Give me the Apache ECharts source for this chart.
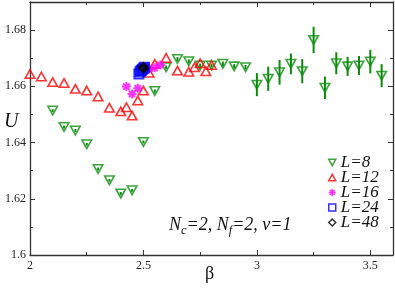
<!DOCTYPE html>
<html><head><meta charset="utf-8">
<script src="https://cdn.jsdelivr.net/npm/echarts@6/dist/echarts.min.js"></script>
<style>html,body{margin:0;padding:0;background:#fff}#c{width:395px;height:292px}</style>
</head><body><div id="c"></div>
<script>
// ---- data ----
var beta8 = [2.1,2.15,2.2,2.25,2.3,2.35,2.4,2.45,2.5,2.55,2.6,2.65,2.7,2.75,2.8,2.85,2.9,2.95,3.0,3.05,3.1,3.15,3.2,3.25,3.3,3.35,3.4,3.45,3.5,3.55];
var U8 = [1.6514,1.6455,1.6443,1.6394,1.6306,1.6266,1.6219,1.6230,1.6402,1.6583,1.6668,1.6697,1.6689,1.6674,1.6674,1.6680,1.6671,1.6668,1.6606,1.6627,1.6650,1.6680,1.6654,1.6765,1.6595,1.6682,1.6671,1.6674,1.6688,1.6638];
var err8 = [0.0005,0.0005,0.0005,0.0005,0.0005,0.0005,0.0005,0.0005,0.0005,0.0006,0.0006,0.0007,0.0007,0.0007,0.0007,0.0008,0.0008,0.0008,0.0041,0.0043,0.0044,0.0037,0.0043,0.0047,0.0040,0.0039,0.0034,0.0034,0.0042,0.0041];
var beta12 = [2.0,2.05,2.1,2.15,2.2,2.25,2.3,2.35,2.4,2.425,2.45,2.475,2.5,2.525,2.55,2.6,2.65,2.7,2.725,2.75,2.775,2.8];
var U12 = [1.6644,1.6635,1.6615,1.6612,1.6591,1.6585,1.6564,1.6524,1.6511,1.6526,1.6496,1.6550,1.6585,1.6648,1.6680,1.6701,1.6656,1.6652,1.6668,1.6682,1.6654,1.6676];
var beta16 = [2.425,2.45,2.475,2.525,2.55,2.575];
var U16 = [1.6599,1.6573,1.6593,1.6662,1.6666,1.6676];
var beta24 = [2.48,2.485,2.49,2.495,2.5,2.505];
var U24 = [1.6644,1.6652,1.6656,1.6660,1.6664,1.6668];
var beta48 = [2.5];
var U48 = [1.6666];
var xTicks = [2, 2.5, 3, 3.5];
var yTicks = [1.6, 1.62, 1.64, 1.66, 1.68];
var labels = ['L=8','L=12','L=16','L=24','L=48'];
var note = {N1:'N', s1:'c', m1:'=2, N', s2:'f', m2:'=2, v=1'};

function pairs(xs, ys){ return xs.map(function(x,i){ return [x, ys[i]]; }); }

var green = '#0a8c0a';
var serif = 'Liberation Serif, Times New Roman, serif';
var downTri = 'path://M0,0 L10,0 L5,9 Z';
var upTri = 'path://M5,0 L10,9 L0,9 Z';
var aster = 'path://M5,0 L5,10 M0,5 L10,5 M1.5,1.5 L8.5,8.5 M8.5,1.5 L1.5,8.5';

var axisLine = {show:true, lineStyle:{color:'#333', width:1.3}};
function xAxisCfg(pos, lbl){
  return {type:'value', position:pos, min:2, max:3.6, interval:0.5,
    axisLine: axisLine, splitLine:{show:false},
    axisTick:{show:true, inside:true, length:5, lineStyle:{color:'#333', width:1}},
    minorTick:{show:true, splitNumber:2, length:3, lineStyle:{color:'#333', width:1}},
    axisLabel:{show:lbl, showMaxLabel:false, margin:5, fontFamily:serif, fontSize:12, color:'#222',
      formatter:function(v){ return xTicks.indexOf(+v.toFixed(2))>=0 ? String(+v.toFixed(2)) : ''; }}};
}
function yAxisCfg(pos, lbl){
  return {type:'value', position:pos, min:1.6, max:1.69, interval:0.02,
    axisLine: axisLine, splitLine:{show:false},
    axisTick:{show:true, inside:true, length:5, lineStyle:{color:'#333', width:1}},
    minorTick:{show:true, splitNumber:2, length:3, lineStyle:{color:'#333', width:1}},
    axisLabel:{show:lbl, showMaxLabel:false, margin:4, fontFamily:serif, fontSize:12, color:'#222',
      formatter:function(v){ return yTicks.indexOf(+v.toFixed(2))>=0 ? String(+v.toFixed(2)) : ''; }}};
}

function errSeries(xs, ys, es, color){
  return {type:'custom', xAxisIndex:0, yAxisIndex:0, silent:true, z:1,
    data: xs.map(function(x,i){ return [x, ys[i]-es[i], ys[i]+es[i]]; }),
    renderItem:function(p, api){
      var a = api.coord([api.value(0), api.value(1)]);
      var b = api.coord([api.value(0), api.value(2)]);
      return {type:'line', shape:{x1:a[0], y1:a[1], x2:b[0], y2:b[1]}, style:{stroke:color, lineWidth:2}};
    }};
}

var chart = echarts.init(document.getElementById('c'), null, {renderer:'canvas'});
chart.setOption({
  animation:false,
  backgroundColor:'#fff',
  grid:{left:30, right:2, top:2, bottom:37},
  xAxis:[xAxisCfg('bottom', true), xAxisCfg('top', false)],
  yAxis:[yAxisCfg('left', true), yAxisCfg('right', false)],
  legend:{orient:'vertical', left:323, top:149, itemWidth:7, itemHeight:7, itemGap:-2, itemTextGap:13,
    data: labels, itemStyle:{borderWidth:1.5},
    textStyle:{fontFamily:serif, fontStyle:'italic', fontSize:17, color:'#111', lineHeight:16}},
  series:[
    errSeries(beta8, U8, err8, green),
    {name:labels[0], type:'scatter', symbol:downTri, symbolSize:[9.5,8.5], data:pairs(beta8,U8), z:3,
      itemStyle:{color:'rgba(255,255,255,0)', borderColor:green, borderWidth:1.6}},
    {name:labels[1], type:'scatter', symbol:upTri, symbolSize:[9.5,8.5], data:pairs(beta12,U12), z:4,
      itemStyle:{color:'rgba(255,255,255,0)', borderColor:'#ff0000', borderWidth:1.6}},
    {name:labels[2], type:'scatter', symbol:aster, symbolSize:9, data:pairs(beta16,U16), z:5,
      itemStyle:{color:'rgba(255,255,255,0)', borderColor:'#ff00ff', borderWidth:2}},
    {name:labels[3], type:'scatter', symbol:'rect', symbolSize:9, data:pairs(beta24,U24), z:6,
      itemStyle:{color:'rgba(255,255,255,0)', borderColor:'#0000ff', borderWidth:2}},
    {name:labels[4], type:'scatter', symbol:'diamond', symbolSize:10, z:7,
      data:pairs(beta48,U48).map(function(d){ return {value:d, itemStyle:{color:'#000'}}; }),
      itemStyle:{color:'rgba(255,255,255,0)', borderColor:'#000', borderWidth:1.8}}
  ],
  graphic:[
    {type:'text', left:4, top:112, style:{text:'U', font:'italic 20px '+serif, fill:'#111'}},
    {type:'text', left:205, top:265, style:{text:'β', font:'18px '+serif, fill:'#111'}},
    {type:'text', left:169, top:216, style:{
      text:'{m|'+note.N1+'}{s|'+note.s1+'}{m|'+note.m1+'}{s|'+note.s2+'}{m|'+note.m2+'}',
      rich:{
        m:{fontFamily:serif, fontStyle:'italic', fontSize:18, lineHeight:24, fill:'#111', color:'#111'},
        s:{fontFamily:serif, fontStyle:'italic', fontSize:12.5, lineHeight:12, verticalAlign:'bottom', fill:'#111', color:'#111'}
      }}}
  ]
});
</script></body></html>
